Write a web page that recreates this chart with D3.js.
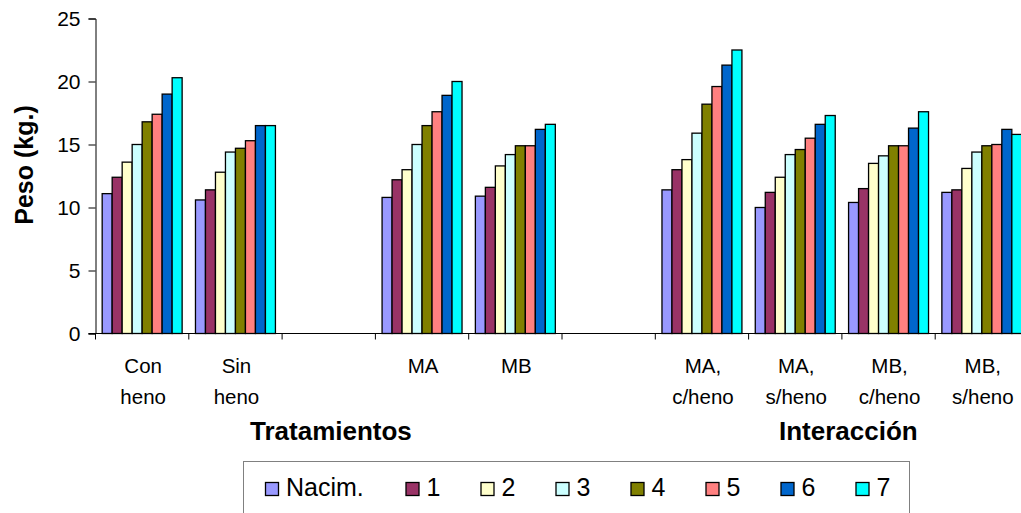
<!DOCTYPE html>
<html>
<head>
<meta charset="utf-8">
<script src="https://cdn.jsdelivr.net/npm/d3@7"></script>
<style>
  body { margin: 0; background: #fff; }
  svg text { font-family: "Liberation Sans", Arial, sans-serif; fill: #000; }
</style>
</head>
<body>
<div id="chart"></div>
<script>
// categories (gap entries are the spacer slots between groups)
const categories = ['Con|heno', 'Sin|heno', 'gap1', 'MA', 'MB', 'gap2',
  'MA,|c/heno', 'MA,|s/heno', 'MB,|c/heno', 'MB,|s/heno'];
const seriesNames = ['Nacim.', '1', '2', '3', '4', '5', '6', '7'];
const seriesColors = ['#9999ff', '#993366', '#ffffcc', '#ccffff', '#808000', '#ff8080', '#0066cc', '#00ffff'];

// one array per category, values for Nacim., 1..7 (null = no bars)
const conHeno  = [11.1, 12.4, 13.6, 15.0, 16.8, 17.4, 19.0, 20.3];
const sinHeno  = [10.6, 11.4, 12.8, 14.4, 14.7, 15.3, 16.5, 16.5];
const ma       = [10.8, 12.2, 13.0, 15.0, 16.5, 17.6, 18.9, 20.0];
const mb       = [10.9, 11.6, 13.3, 14.2, 14.9, 14.9, 16.2, 16.6];
const maCHeno  = [11.4, 13.0, 13.8, 15.9, 18.2, 19.6, 21.3, 22.5];
const maSHeno  = [10.0, 11.2, 12.4, 14.2, 14.6, 15.5, 16.6, 17.3];
const mbCHeno  = [10.4, 11.5, 13.5, 14.1, 14.9, 14.9, 16.3, 17.6];
const mbSHeno  = [11.2, 11.4, 13.1, 14.4, 14.9, 15.0, 16.2, 15.8];
const values = [conHeno, sinHeno, null, ma, mb, null, maCHeno, maSHeno, mbCHeno, mbSHeno];

const yTicks = [0, 5, 10, 15, 20, 25];

const width = 1021, height = 513;
const svg = d3.select('#chart').append('svg')
  .attr('width', width)
  .attr('height', height);

const x0 = d3.scaleBand()
  .domain(categories)
  .range([95.5, 1028.5])
  .paddingInner(0.143)
  .paddingOuter(0.0715);

const x1 = d3.scaleBand()
  .domain(seriesNames)
  .range([0, x0.bandwidth()]);

const y = d3.scaleLinear()
  .domain([0, 25])
  .range([333.5, 18.5]);

// bars
const groups = svg.selectAll('.cat')
  .data(categories.map((c, i) => ({ c, vals: values[i] })).filter(d => d.vals))
  .join('g')
  .attr('class', 'cat')
  .attr('transform', d => `translate(${x0(d.c)},0)`);

groups.selectAll('rect')
  .data(d => d.vals.map((v, i) => ({ v, s: seriesNames[i], col: seriesColors[i] })))
  .join('rect')
  .attr('x', d => x1(d.s))
  .attr('width', x1.bandwidth())
  .attr('y', d => y(d.v))
  .attr('height', d => y(0) - y(d.v))
  .attr('fill', d => d.col)
  .attr('stroke', '#000')
  .attr('stroke-width', 1.3);

// y axis
const yAxis = svg.append('g')
  .attr('transform', 'translate(95.5,0)')
  .call(d3.axisLeft(y).tickValues(yTicks).tickSize(7).tickPadding(8));
yAxis.select('.domain').attr('stroke', '#000');
yAxis.selectAll('.tick line').attr('stroke', '#000');
yAxis.selectAll('text').style('font-size', '21px');

// x axis: line plus ticks at category boundaries
const step = x0.step();
const boundaries = d3.range(categories.length + 1).map(i => 95.5 + i * step);
svg.append('line')
  .attr('x1', 88.5).attr('x2', 1028.5)
  .attr('y1', y(0)).attr('y2', y(0))
  .attr('stroke', '#000');
svg.selectAll('.xtick')
  .data(boundaries)
  .join('line')
  .attr('class', 'xtick')
  .attr('x1', d => d).attr('x2', d => d)
  .attr('y1', y(0)).attr('y2', y(0) + 6)
  .attr('stroke', '#000');

const labels = svg.selectAll('.xlab')
  .data(categories.filter(c => !c.startsWith('gap')))
  .join('text')
  .attr('class', 'xlab')
  .attr('text-anchor', 'middle')
  .style('font-size', '20.5px');
labels.each(function(c) {
  const lines = c.split('|');
  const t = d3.select(this);
  const cx = x0(c) + x0.bandwidth() / 2 + 1;
  lines.forEach((ln, i) => {
    t.append('tspan')
      .attr('x', cx)
      .attr('y', 372.5 + i * 31)
      .text(ln);
  });
});

// axis titles
svg.append('text')
  .attr('transform', 'translate(33,165) rotate(-90)')
  .attr('text-anchor', 'middle')
  .style('font-size', '25px')
  .style('font-weight', 'bold')
  .text('Peso (kg.)');

svg.append('text')
  .attr('x', 250).attr('y', 440)
  .style('font-size', '26px')
  .style('font-weight', 'bold')
  .text('Tratamientos');

svg.append('text')
  .attr('x', 779).attr('y', 440)
  .style('font-size', '26px')
  .style('font-weight', 'bold')
  .text('Interacción');

// legend
svg.append('rect')
  .attr('x', 243.5).attr('y', 461.5)
  .attr('width', 666).attr('height', 60)
  .attr('fill', '#fff')
  .attr('stroke', '#808080');

const legendX = [265, 405.5, 480.5, 555.5, 630.5, 705.5, 780.5, 855.5];
const leg = svg.selectAll('.leg')
  .data(seriesNames)
  .join('g')
  .attr('class', 'leg')
  .attr('transform', (d, i) => `translate(${legendX[i]},482)`);
leg.append('rect')
  .attr('x', 0.5).attr('y', 0.5)
  .attr('width', 13).attr('height', 13)
  .attr('fill', (d, i) => seriesColors[i])
  .attr('stroke', '#000')
  .attr('stroke-width', 1.3);
leg.append('text')
  .attr('x', 21).attr('y', 14)
  .style('font-size', '25px')
  .text(d => d);
</script>
</body>
</html>
